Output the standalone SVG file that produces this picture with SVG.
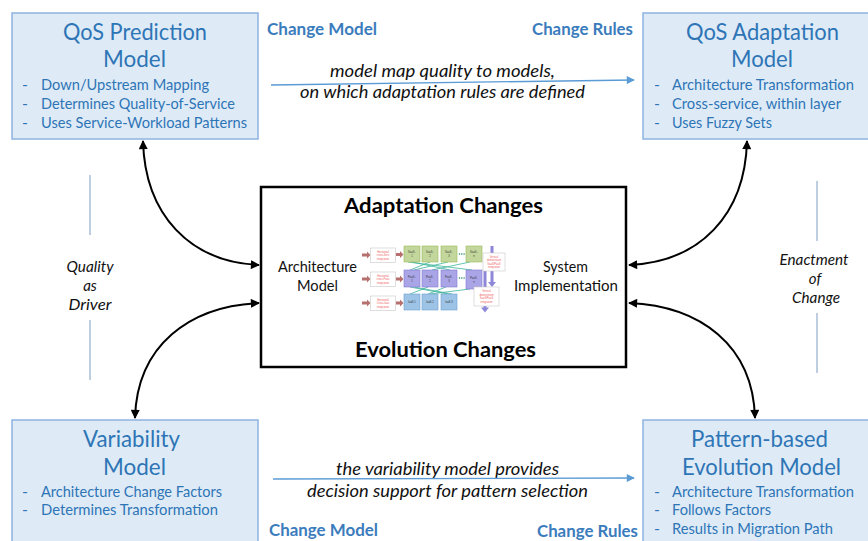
<svg xmlns="http://www.w3.org/2000/svg" width="868" height="541" viewBox="0 0 868 541">
<style>
.box{fill:#deebf7;stroke:#8db3e0;stroke-width:1.5}
.ttl{font-family:Lato,"Liberation Sans",sans-serif;font-size:23px;fill:#2e75b6}
.itm{font-family:Lato,"Liberation Sans",sans-serif;font-size:16px;fill:#2e75b6}
.chg{font-family:Lato,"Liberation Sans",sans-serif;font-size:17px;font-weight:bold;fill:#3b7cbd}
.cap{font-family:Lato,"Liberation Sans",sans-serif;font-size:17px;font-style:italic;fill:#111}
.side{font-family:Lato,"Liberation Sans",sans-serif;font-size:15px;font-style:italic;fill:#111}
.ctr{font-family:Lato,"Liberation Sans",sans-serif;font-size:15px;fill:#111}
.big{font-family:Lato,"Liberation Sans",sans-serif;font-size:21px;font-weight:bold;fill:#000}
.curve{fill:none;stroke:#000;stroke-width:2;marker-start:url(#ah);marker-end:url(#ah)}
.blue{fill:none;stroke:#5b9bd5;stroke-width:1.3;marker-end:url(#bh)}
.vline{stroke:#7f9cc0;stroke-width:1}
.g{fill:#c3d69b;stroke:#9bbb59;stroke-width:0.6}
.p{fill:#aaa5e6;stroke:#8079d0;stroke-width:0.6}
.b{fill:#9dc3e6;stroke:#6fa0d0;stroke-width:0.6}
.lbl{fill:#fff;stroke:#c8c8c8;stroke-width:0.6}
.tl{font-family:"Liberation Sans",sans-serif;font-size:2.6px;fill:#f06060}
.tb{font-family:"Liberation Sans",sans-serif;font-size:2.6px;fill:#333}
.br{fill:#b5706f}
.pu{fill:#8e86d8}
.tel{stroke:#3cb59a;stroke-width:0.8}
</style>
<defs>
<marker id="ah" viewBox="0 0 10 10" refX="9" refY="5" markerWidth="10" markerHeight="9" markerUnits="userSpaceOnUse" orient="auto-start-reverse">
<path d="M0,0 L10,5 L0,10 z" fill="#000"/>
</marker>
<marker id="bh" viewBox="0 0 10 10" refX="9" refY="5" markerWidth="10" markerHeight="8" markerUnits="userSpaceOnUse" orient="auto">
<path d="M0,0 L10,5 L0,10 z" fill="#5b9bd5"/>
</marker>
</defs>
<rect width="868" height="541" fill="#fff"/>

<g id="qos-prediction">
<rect class="box" x="12" y="13" width="246" height="126"/>
<text class="ttl" x="63" y="40" textLength="144" lengthAdjust="spacingAndGlyphs">QoS Prediction</text>
<text class="ttl" x="103" y="67" textLength="63" lengthAdjust="spacingAndGlyphs">Model</text>
<text class="itm" x="22" y="90">-</text><text class="itm" x="41" y="90" textLength="168" lengthAdjust="spacingAndGlyphs">Down/Upstream Mapping</text>
<text class="itm" x="22" y="109">-</text><text class="itm" x="41" y="109" textLength="194" lengthAdjust="spacingAndGlyphs">Determines Quality-of-Service</text>
<text class="itm" x="22" y="128">-</text><text class="itm" x="41" y="128" textLength="206" lengthAdjust="spacingAndGlyphs">Uses Service-Workload Patterns</text>
</g>

<g id="qos-adaptation">
<rect class="box" x="643" y="13" width="228" height="126"/>
<text class="ttl" x="686" y="40" textLength="153" lengthAdjust="spacingAndGlyphs">QoS Adaptation</text>
<text class="ttl" x="731" y="67" textLength="62" lengthAdjust="spacingAndGlyphs">Model</text>
<text class="itm" x="654" y="90">-</text><text class="itm" x="672" y="90" textLength="182" lengthAdjust="spacingAndGlyphs">Architecture Transformation</text>
<text class="itm" x="654" y="109">-</text><text class="itm" x="672" y="109" textLength="169" lengthAdjust="spacingAndGlyphs">Cross-service, within layer</text>
<text class="itm" x="654" y="128">-</text><text class="itm" x="672" y="128" textLength="100" lengthAdjust="spacingAndGlyphs">Uses Fuzzy Sets</text>
</g>

<g id="variability">
<rect class="box" x="12" y="420" width="246" height="130"/>
<text class="ttl" x="83" y="447" textLength="97" lengthAdjust="spacingAndGlyphs">Variability</text>
<text class="ttl" x="103" y="475" textLength="63" lengthAdjust="spacingAndGlyphs">Model</text>
<text class="itm" x="22" y="497">-</text><text class="itm" x="41" y="497" textLength="181" lengthAdjust="spacingAndGlyphs">Architecture Change Factors</text>
<text class="itm" x="22" y="515">-</text><text class="itm" x="41" y="515" textLength="177" lengthAdjust="spacingAndGlyphs">Determines Transformation</text>
</g>

<g id="pattern-evolution">
<rect class="box" x="643" y="420" width="228" height="130"/>
<text class="ttl" x="691" y="447" textLength="137" lengthAdjust="spacingAndGlyphs">Pattern-based</text>
<text class="ttl" x="682" y="475" textLength="159" lengthAdjust="spacingAndGlyphs">Evolution Model</text>
<text class="itm" x="654" y="497">-</text><text class="itm" x="672" y="497" textLength="182" lengthAdjust="spacingAndGlyphs">Architecture Transformation</text>
<text class="itm" x="654" y="515">-</text><text class="itm" x="672" y="515" textLength="99" lengthAdjust="spacingAndGlyphs">Follows Factors</text>
<text class="itm" x="654" y="534">-</text><text class="itm" x="672" y="534" textLength="161" lengthAdjust="spacingAndGlyphs">Results in Migration Path</text>
</g>

<g id="changes">
<rect x="261" y="187" width="365" height="180" fill="#fff" stroke="#000" stroke-width="2.5"/>
<text class="big" x="344" y="213" textLength="199" lengthAdjust="spacingAndGlyphs">Adaptation Changes</text>
<text class="big" x="355" y="357" textLength="181" lengthAdjust="spacingAndGlyphs">Evolution Changes</text>
<text class="ctr" x="278" y="272" textLength="79" lengthAdjust="spacingAndGlyphs">Architecture</text>
<text class="ctr" x="297" y="291" textLength="41" lengthAdjust="spacingAndGlyphs">Model</text>
<text class="ctr" x="543" y="272" textLength="45" lengthAdjust="spacingAndGlyphs">System</text>
<text class="ctr" x="514" y="291" textLength="104" lengthAdjust="spacingAndGlyphs">Implementation</text>
</g>

<g id="architecture-figure">
<path class="br" d="M362,253.5 L367,253.5 L367,251.5 L370.5,255 L367,258.5 L367,256.5 L362,256.5 z"/>
<path class="br" d="M362,277.5 L367,277.5 L367,275.5 L370.5,279 L367,282.5 L367,280.5 L362,280.5 z"/>
<path class="br" d="M362,301.5 L367,301.5 L367,299.5 L370.5,303 L367,306.5 L367,304.5 L362,304.5 z"/>
<path class="br" d="M396,253 L400,253 L400,251 L403.5,254.5 L400,258 L400,256 L396,256 z"/>
<path class="br" d="M396,277.5 L400,277.5 L400,275.5 L403.5,279 L400,282.5 L400,280.5 L396,280.5 z"/>
<path class="br" d="M396,301.5 L400,301.5 L400,299.5 L403.5,303 L400,306.5 L400,304.5 L396,304.5 z"/>
<rect class="lbl" x="370.5" y="248" width="25" height="14.5"/>
<rect class="lbl" x="370.5" y="272" width="25" height="14.5"/>
<rect class="lbl" x="370.5" y="296" width="25" height="14.5"/>
<g class="tl" text-anchor="middle">
<text x="383" y="252.5">Horizontal</text><text x="383" y="256">cross-Serv</text><text x="383" y="259.5">integration</text>
<text x="383" y="276.5">Horizontal</text><text x="383" y="280">cross-Paas</text><text x="383" y="283.5">integration</text>
<text x="383" y="300.5">Horizontal</text><text x="383" y="304">Cross-Iaas</text><text x="383" y="307.5">integration</text>
</g>
<line class="tel" x1="408" y1="262" x2="472" y2="270"/>
<line class="tel" x1="430" y1="262" x2="410" y2="270"/>
<line class="tel" x1="448" y1="262" x2="414" y2="270"/>
<line class="tel" x1="412" y1="262" x2="450" y2="270"/>
<line class="tel" x1="470" y1="262" x2="432" y2="270"/>
<line class="tel" x1="410" y1="287" x2="448" y2="294"/>
<line class="tel" x1="428" y1="287" x2="410" y2="294"/>
<line class="tel" x1="446" y1="287" x2="428" y2="294"/>
<line class="tel" x1="470" y1="289" x2="430" y2="294"/>
<line class="tel" x1="414" y1="287" x2="452" y2="294"/>
<rect class="g" x="404" y="246" width="16" height="16"/>
<rect class="g" x="422" y="246" width="16" height="16"/>
<rect class="g" x="441" y="246" width="16" height="16"/>
<rect class="g" x="466" y="246" width="16" height="16"/>
<rect class="p" x="404" y="270" width="16" height="17"/>
<rect class="p" x="422" y="270" width="16" height="17"/>
<rect class="p" x="441" y="270" width="16" height="17"/>
<rect class="p" x="466" y="270" width="16" height="19"/>
<rect class="b" x="404" y="294" width="16" height="16"/>
<rect class="b" x="422" y="294" width="16" height="16"/>
<rect class="b" x="441" y="294" width="16" height="16"/>
<g fill="#2a8a6a">
<circle cx="459.5" cy="254" r="0.8"/><circle cx="461.8" cy="254" r="0.8"/><circle cx="464.1" cy="254" r="0.8"/>
<circle cx="459.5" cy="278" r="0.8"/><circle cx="461.8" cy="278" r="0.8"/><circle cx="464.1" cy="278" r="0.8"/>
</g>
<g class="tb" text-anchor="middle">
<text x="412" y="253">SaaS -</text><text x="412" y="257">1</text>
<text x="430" y="253">SaaS -</text><text x="430" y="257">2</text>
<text x="449" y="253">SaaS -</text><text x="449" y="257">3</text>
<text x="474" y="253">SaaS -</text><text x="474" y="257">n</text>
<text x="412" y="277.5">PaaS -</text><text x="412" y="281.5">1</text>
<text x="430" y="277.5">PaaS -</text><text x="430" y="281.5">2</text>
<text x="449" y="277.5">PaaS -</text><text x="449" y="281.5">3</text>
<text x="474" y="278.5">PaaS -</text><text x="474" y="282.5">n</text>
<text x="412" y="303">IaaS 1</text>
<text x="430" y="303">IaaS 2</text>
<text x="449" y="303">IaaS 3</text>
</g>
<rect class="pu" x="490.5" y="246" width="3" height="37"/>
<path class="pu" d="M488,282 L496,282 L492,287 z"/>
<rect class="pu" x="483.5" y="271" width="3" height="37"/>
<path class="pu" d="M481,307.5 L489,307.5 L485,312.5 z"/>
<rect class="lbl" x="483" y="253" width="22" height="18"/>
<rect class="lbl" x="474" y="287" width="25" height="19"/>
<g class="tl" text-anchor="middle">
<text x="494" y="257.5">Vertical</text><text x="494" y="261">downstream</text><text x="494" y="264.5">SaaS/PaaS</text><text x="494" y="268">integration</text>
<text x="486.5" y="292">Vertical</text><text x="486.5" y="295.5">downstream</text><text x="486.5" y="299">SaaS/PaaS</text><text x="486.5" y="302.5">integration</text>
</g>
</g>

<g id="labels">
<text class="chg" x="267" y="35" textLength="110" lengthAdjust="spacingAndGlyphs">Change Model</text>
<text class="chg" x="532" y="35" textLength="101" lengthAdjust="spacingAndGlyphs">Change Rules</text>
<text class="chg" x="269" y="536" textLength="109" lengthAdjust="spacingAndGlyphs">Change Model</text>
<text class="chg" x="537" y="537" textLength="101" lengthAdjust="spacingAndGlyphs">Change Rules</text>
<text class="cap" x="330" y="77" textLength="225" lengthAdjust="spacingAndGlyphs">model map quality to models,</text>
<text class="cap" x="300" y="98" textLength="285" lengthAdjust="spacingAndGlyphs">on which adaptation rules are defined</text>
<text class="cap" x="336" y="475" textLength="223" lengthAdjust="spacingAndGlyphs">the variability model provides</text>
<text class="cap" x="307" y="497" textLength="281" lengthAdjust="spacingAndGlyphs">decision support for pattern selection</text>
<g text-anchor="middle">
<text class="side" x="90" y="272" textLength="47" lengthAdjust="spacingAndGlyphs">Quality</text>
<text class="side" x="90" y="291">as</text>
<text class="side" x="90" y="310" textLength="43" lengthAdjust="spacingAndGlyphs">Driver</text>
<text class="side" x="814" y="265" textLength="69" lengthAdjust="spacingAndGlyphs">Enactment</text>
<text class="side" x="815" y="284">of</text>
<text class="side" x="816" y="303" textLength="48" lengthAdjust="spacingAndGlyphs">Change</text>
</g>
</g>

<g id="connectors">
<path class="curve" d="M143,141 C145,215 190,262 259,265"/>
<path class="curve" d="M259,303 C190,306 137,345 135,418"/>
<path class="curve" d="M747,141 C745,215 700,262 629,265"/>
<path class="curve" d="M629,303 C700,306 753,345 755,418"/>
<path class="blue" d="M271,85 L634,80"/>
<path class="blue" d="M273,479 L634,478"/>
<line class="vline" x1="90" y1="175" x2="90" y2="235"/>
<line class="vline" x1="90" y1="320" x2="90" y2="380"/>
<line class="vline" x1="817" y1="181" x2="817" y2="241"/>
<line class="vline" x1="817" y1="313" x2="817" y2="373"/>
</g>
</svg>
